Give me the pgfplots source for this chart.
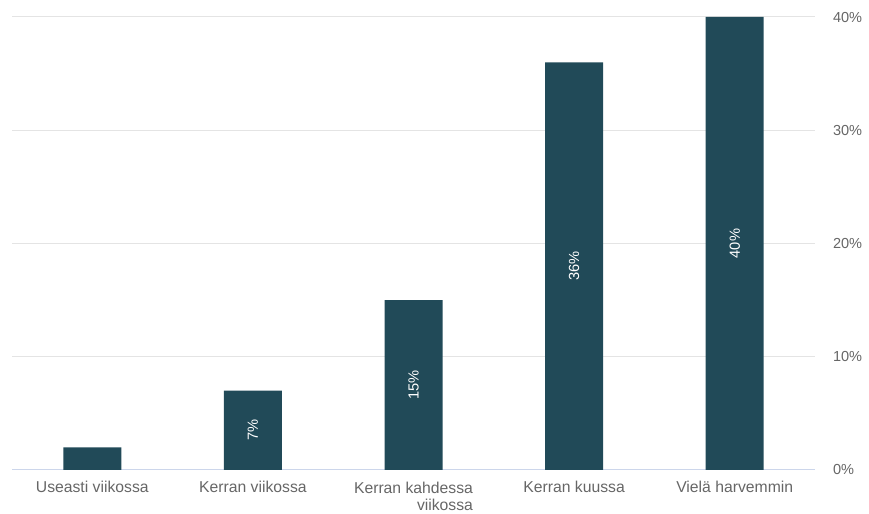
\documentclass[border=0pt]{standalone}
\usepackage{pgfplots}
\pgfplotsset{compat=1.18}
\usepackage{fontspec}
\setmainfont{Liberation Sans}
\definecolor{barc}{RGB}{33,74,88}
\definecolor{tickc}{RGB}{102,102,102}
\definecolor{axisc}{RGB}{204,214,235}
\definecolor{gridc}{RGB}{228,228,228}
\begin{document}
\begin{tikzpicture}
\path[use as bounding box] (0,0) rectangle (651.75pt,385.5pt);
\begin{axis}[
  at={(9pt,33pt)}, anchor=south west,
  scale only axis, width=602.25pt, height=339.75pt,
  xmin=-0.5, xmax=4.5, ymin=0, ymax=40,
  xtick={0,1,2,3,4},
  xticklabels={Useasti viikossa, Kerran viikossa, {\begin{tabular}{@{}r@{}}Kerran kahdessa\\[-1pt] viikossa\end{tabular}}, Kerran kuussa, Vielä harvemmin},
  ytick={0,10,20,30,40},
  yticklabels={0\%,10\%,20\%,30\%,40\%},
  yticklabel pos=right,
  axis x line*=bottom,
  axis y line*=right,
  x axis line style={draw=axisc, line width=0.75pt, -},
  y axis line style={draw=none},
  major tick length=0pt,
  ymajorgrids, grid style={draw=gridc, line width=0.75pt},
  xticklabel style={font=\fontsize{11.8}{13.5}\selectfont, text=tickc, anchor=north, yshift=-5pt},
  yticklabel style={font=\fontsize{10.9}{12}\selectfont, text=tickc, anchor=west, xshift=10pt},
  clip=false,
]
\addplot[ybar, bar width=43.5pt, fill=barc, draw=none]
  coordinates {(0,2) (1,7) (2,15) (3,36) (4,40)};
% value labels, centred in each bar (at half the bar's height)
\addplot[draw=none, mark=none, point meta=explicit symbolic, nodes near coords,
  every node near coord/.style={text=white, rotate=90, anchor=center, inner sep=0pt,
    font=\fontsize{11}{12}\selectfont}]
  coordinates {(1,3.5) [7\%] (2,7.5) [15\%] (3,18) [36\%] (4,20) [40\%]};
\end{axis}
\end{tikzpicture}
\end{document}
